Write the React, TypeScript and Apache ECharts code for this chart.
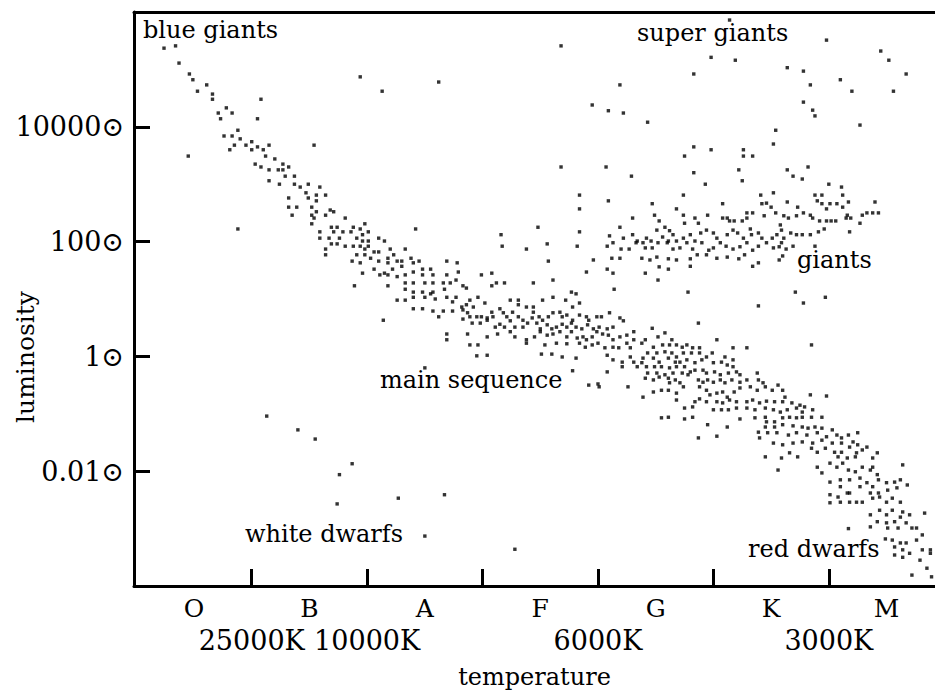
import React, { useEffect, useRef } from "react";
import * as echarts from "echarts";

// Spectral classes along the temperature axis: O sits at 0, M at 6.
const spectralClasses = ["O", "B", "A", "F", "G", "K", "M"];
// Tick marks fall on the boundaries between classes.
const classBoundaries = [0.5, 1.5, 2.5, 3.5, 4.5, 5.5];
// Surface temperatures written under some of those boundaries.
const temperatureTicks = [0.5, 1.5, 3.5, 5.5];
const temperatureLabels = ["25000K", "10000K", "6000K", "3000K"];
// Luminosity ticks, in log10 of solar luminosity.
const luminosityTicks = [4, 2, 0, -2];
const luminosityLabels = ["10000⊙", "100⊙", "1⊙", "0.01⊙"];

// Stars as [spectral position, log10(L / L☉)].
const hotMainSequence = [
  [-0.26, 5.37], [-0.16, 5.41], [-0.13, 5.11], [-0.05, 3.49],
  [-0.04, 4.92], [-0.01, 4.82], [0.11, 4.73], [0.03, 4.62], [0.16, 4.57], [0.16, 4.48], [0.58, 4.48],
  [0.28, 4.33], [0.21, 4.24], [0.33, 4.24], [0.23, 4.14], [0.55, 4.14], [0.38, 3.94], [0.26, 3.84], [0.33, 3.84], [0.4, 3.79],
  [0.35, 3.68], [0.45, 3.68], [0.5, 3.74], [0.65, 3.68], [1.04, 3.68], [0.31, 3.6], [0.5, 3.6], [0.55, 3.65], [0.6, 3.6],
  [0.62, 3.49], [0.7, 3.44], [0.53, 3.35], [0.58, 3.3], [0.77, 3.35], [0.82, 3.3], [0.65, 3.25], [0.73, 3.25], [0.77, 3.25],
  [0.79, 3.14], [0.87, 3.14], [0.65, 3.06], [0.74, 3.0], [0.87, 3.0], [0.92, 2.95], [0.99, 3.0], [1.09, 2.95],
  [0.97, 2.85], [1.06, 2.81], [1.14, 2.81], [0.82, 2.76], [0.99, 2.76], [1.06, 2.71], [0.82, 2.6], [0.89, 2.6], [1.02, 2.6],
  [1.18, 2.55], [1.21, 2.52], [0.85, 2.46], [1.02, 2.46], [1.06, 2.52], [1.14, 2.46], [1.04, 2.41], [1.31, 2.41], [1.02, 2.31],
  [1.19, 2.25], [1.24, 2.25], [1.38, 2.25], [1.48, 2.31], [1.44, 2.22], [0.38, 2.22], [1.92, 2.22],
  [1.09, 2.17], [1.21, 2.17], [1.29, 2.17], [1.36, 2.17], [1.51, 2.17], [1.46, 2.12],
  [1.09, 2.06], [1.17, 2.06], [1.26, 2.06], [1.41, 2.06], [1.6, 2.06], [1.46, 2.01], [1.51, 2.01], [1.65, 2.01],
  [1.19, 1.96], [1.24, 1.96], [1.31, 1.92], [1.38, 1.92], [1.44, 1.92], [1.51, 1.92], [1.14, 1.87], [1.48, 1.87], [1.7, 1.87], [1.83, 1.87],
  [1.56, 1.82], [1.6, 1.82], [1.14, 1.77], [1.41, 1.77], [1.48, 1.77], [1.53, 1.71], [1.68, 1.71], [1.73, 1.77], [1.88, 1.71],
  [1.37, 1.66], [1.44, 1.63], [1.6, 1.66], [1.68, 1.63], [1.76, 1.66], [1.46, 1.45], [1.56, 1.52], [1.61, 1.42], [1.65, 1.45],
  [1.68, 1.42], [1.72, 1.52], [1.76, 1.39], [1.39, 1.23], [1.68, 1.23], [1.76, 0.98], [1.64, 0.63],
];

const midMainSequence = [
  [2.67, 1.92], [3.06, 1.96], [2.88, 1.87],
  [1.8, 1.66], [1.9, 1.63], [1.95, 1.66], [1.8, 1.57], [2.19, 1.66], [2.28, 1.63], [3.07, 1.66],
  [1.9, 1.47], [1.98, 1.52], [2.05, 1.52], [1.98, 1.42], [2.07, 1.42], [2.19, 1.42], [2.29, 1.47], [1.83, 1.42], [2.49, 1.42], [2.58, 1.45],
  [1.83, 1.28], [1.9, 1.28], [2.0, 1.28], [2.07, 1.28], [2.16, 1.28], [2.22, 1.28], [2.27, 1.33], [2.33, 1.23], [2.36, 1.19],
  [2.58, 1.23], [2.62, 1.28], [2.69, 1.28], [2.94, 1.28], [3.11, 1.33], [3.27, 1.12], [3.31, 1.09], [3.64, 1.17], [4.02, 1.33],
  [1.83, 1.17], [1.9, 1.12], [1.98, 1.12], [2.05, 1.09], [2.0, 1.03], [2.07, 1.12], [2.17, 1.17], [1.83, 0.98], [1.9, 1.03],
  [2.09, 1.0], [2.19, 1.03], [2.24, 0.95], [2.27, 1.03], [2.39, 0.98], [2.46, 1.03], [2.52, 0.93], [2.42, 0.86], [2.36, 0.9], [2.33, 0.81],
  [2.74, 0.98], [2.81, 0.98], [2.81, 0.9], [2.88, 0.86], [2.94, 0.86], [3.02, 0.98], [3.11, 1.03], [3.22, 0.98], [3.28, 0.86], [3.34, 0.93],
  [1.9, 0.83], [1.98, 0.83], [2.07, 0.79], [2.12, 0.69], [2.16, 0.79], [2.24, 0.79], [2.32, 0.86], [2.37, 0.76], [2.39, 0.69],
  [2.45, 0.69], [2.49, 0.69], [2.54, 0.67], [2.58, 0.77], [2.59, 0.69], [2.65, 0.83], [2.68, 0.76], [2.71, 0.69], [2.76, 0.77],
  [2.81, 0.69], [2.85, 0.63], [2.93, 0.67], [2.94, 0.77], [2.99, 0.69], [3.02, 0.63], [3.07, 0.69], [3.11, 0.76], [3.17, 0.77],
  [3.19, 0.69], [3.23, 0.72], [3.28, 0.63], [3.34, 0.72], [3.4, 0.69], [3.42, 0.63], [3.49, 0.69], [3.53, 0.69], [3.6, 0.76], [3.69, 0.67],
  [2.33, 0.65], [2.41, 0.58], [2.48, 0.58], [2.54, 0.63], [2.61, 0.51], [2.65, 0.56], [2.69, 0.51], [2.74, 0.62], [2.78, 0.51],
  [2.85, 0.51], [2.89, 0.58], [2.97, 0.58], [3.0, 0.48], [3.06, 0.55], [3.1, 0.48], [3.14, 0.51], [3.19, 0.56], [3.23, 0.51],
  [3.27, 0.58], [3.31, 0.51], [3.36, 0.48], [3.41, 0.55], [3.46, 0.48], [3.51, 0.51], [3.58, 0.48], [3.63, 0.51], [3.72, 0.62], [3.81, 0.43],
  [2.19, 0.39], [2.19, 0.29], [2.37, 0.39], [2.54, 0.34], [2.63, 0.39], [2.74, 0.43], [2.78, 0.34], [2.88, 0.29],
  [2.95, 0.34], [3.0, 0.43], [3.06, 0.37], [3.11, 0.39], [3.17, 0.43], [3.23, 0.34], [3.27, 0.43], [3.32, 0.32], [3.37, 0.34],
  [3.4, 0.29], [3.45, 0.34], [3.49, 0.43], [3.54, 0.39], [3.59, 0.37], [3.63, 0.29], [3.69, 0.34], [3.75, 0.37], [3.81, 0.29],
  [2.39, 0.2], [2.46, 0.2], [2.54, 0.02], [2.45, 0.01], [2.88, 0.23], [3.04, 0.2], [3.14, 0.23], [3.23, 0.22], [3.34, 0.23],
  [3.39, 0.16], [3.45, 0.2], [3.5, 0.23], [3.56, 0.15], [3.63, 0.16], [3.68, 0.15], [3.75, 0.23], [3.78, 0.15],
  [3.01, 0.04], [3.1, 0.04], [3.19, -0.01], [3.31, -0.03], [3.58, 0.02], [3.63, -0.06], [3.71, -0.1], [3.78, -0.01], [3.81, -0.1],
  [2.0, -0.2], [3.28, -0.25], [3.42, -0.5], [3.5, -0.48], [3.51, -0.53], [3.58, -0.27], [3.71, -0.18], [3.84, -0.18], [3.76, -0.53],
];

const coolMainSequence = [
  [4.37, 0.58], [3.97, 0.49], [4.02, 0.34], [4.08, 0.41], [4.14, 0.29], [3.91, 0.29], [3.88, 0.23], [3.98, 0.16],
  [4.06, 0.2], [4.12, 0.2], [4.18, 0.2], [4.23, 0.16], [4.27, 0.2], [4.32, 0.15], [4.38, 0.15], [4.53, 0.29], [4.67, 0.15], [4.79, 0.15], [5.35, 0.2],
  [3.93, 0.06], [4.01, 0.06], [4.08, 0.08], [4.14, 0.06], [4.18, -0.01], [4.24, 0.06], [4.31, 0.06], [4.38, 0.06], [4.44, -0.01], [4.49, 0.06], [4.6, -0.01],
  [3.89, -0.03], [3.88, -0.11], [3.98, -0.03], [4.03, -0.1], [4.11, -0.03], [4.17, -0.1], [4.21, -0.1], [4.27, -0.06], [4.34, -0.11],
  [4.4, -0.06], [4.5, -0.11], [4.57, -0.1], [4.62, -0.15], [4.67, -0.06], [4.67, -0.18],
  [3.92, -0.18], [3.99, -0.18], [4.05, -0.18], [4.12, -0.2], [4.18, -0.18], [4.25, -0.18], [4.3, -0.27], [4.34, -0.24], [4.41, -0.24],
  [4.44, -0.29], [4.51, -0.27], [4.56, -0.32], [4.63, -0.29], [4.7, -0.27], [4.73, -0.32],
  [3.93, -0.29], [4.01, -0.29], [4.08, -0.32], [4.15, -0.29], [4.23, -0.29], [4.28, -0.32],
  [3.91, -0.38], [3.98, -0.41], [4.03, -0.36], [4.11, -0.38], [4.17, -0.41], [4.21, -0.46], [4.12, -0.46],
  [4.37, -0.41], [4.41, -0.45], [4.45, -0.41], [4.5, -0.45], [4.56, -0.41], [4.6, -0.46], [4.66, -0.41], [4.73, -0.45], [4.79, -0.41],
  [4.88, -0.29], [4.89, -0.41], [4.93, -0.46],
  [3.89, -0.71], [3.98, -0.62], [4.05, -0.59], [4.11, -0.59], [4.18, -0.64], [4.24, -0.53], [4.38, -0.53], [4.44, -0.59], [4.47, -0.67],
  [4.53, -0.64], [4.58, -0.62], [4.62, -0.71], [4.68, -0.62], [4.73, -0.55], [4.82, -0.53], [4.88, -0.59], [4.95, -0.53], [5.01, -0.59],
  [5.06, -0.5], [5.1, -0.59], [5.12, -0.71],
  [4.18, -0.76], [4.34, -0.79], [4.38, -0.74], [4.44, -0.79], [4.53, -0.79], [4.58, -0.81], [4.64, -0.76], [4.7, -0.79], [4.79, -0.79],
  [4.84, -0.76], [4.9, -0.81], [4.96, -0.78], [5.03, -0.79], [5.1, -0.79], [5.18, -0.81], [5.25, -0.85], [5.34, -0.67], [5.48, -0.69],
  [4.25, -0.9], [4.32, -0.88], [4.5, -0.93], [4.57, -0.93], [4.63, -0.93], [4.7, -0.9], [4.79, -0.9], [4.86, -0.93], [4.95, -0.9],
  [5.02, -0.93], [5.08, -0.97], [5.14, -0.93], [5.22, -0.9], [5.29, -0.88], [5.27, -0.97], [5.36, -0.93],
  [4.05, -1.07], [4.11, -1.06], [4.25, -1.09], [4.32, -1.06], [4.45, -1.19], [4.62, -1.23], [4.73, -1.09], [4.86, -1.07], [4.95, -1.06],
  [4.96, -1.14], [5.03, -1.14], [5.1, -1.07], [5.16, -1.06], [5.22, -1.07], [5.27, -1.06], [5.35, -1.06], [5.44, -1.06],
  [4.95, -1.23], [5.03, -1.23], [5.1, -1.19], [5.19, -1.21], [5.27, -1.23], [5.32, -1.25], [5.38, -1.23], [5.44, -1.25], [5.53, -1.28],
  [4.89, -1.32], [4.97, -1.33], [5.05, -1.33], [5.15, -1.37], [5.22, -1.33], [5.31, -1.37], [5.4, -1.33], [5.48, -1.4], [5.57, -1.37],
  [5.61, -1.42], [5.67, -1.37], [5.75, -1.33], [4.37, -1.42], [4.53, -1.39],
  [4.9, -1.42], [5.02, -1.51], [5.1, -1.54], [5.19, -1.51], [5.27, -1.49], [5.36, -1.51], [5.44, -1.46], [5.53, -1.51], [5.61, -1.51],
  [5.71, -1.49], [5.75, -1.54],
  [4.95, -1.75], [5.09, -1.77], [5.16, -1.68], [5.23, -1.75], [5.35, -1.6], [5.4, -1.67], [5.47, -1.6], [5.55, -1.67], [5.61, -1.67],
  [5.68, -1.58], [5.74, -1.68], [5.79, -1.63], [5.83, -1.58], [5.92, -1.68], [5.88, -1.77], [5.73, -1.75], [5.66, -1.77], [5.58, -1.75],
  [5.06, -1.98], [5.4, -1.93], [5.44, -2.03], [5.51, -1.86], [5.57, -1.93], [5.62, -1.86], [5.67, -1.98], [5.73, -2.01], [5.79, -1.93],
  [5.86, -1.98], [5.88, -1.93], [5.92, -2.06], [6.14, -1.89],
  [5.51, -2.19], [5.6, -2.15], [5.68, -2.15], [5.77, -2.12], [5.83, -2.2], [5.88, -2.27], [5.93, -2.15], [6.0, -2.2], [6.07, -2.19],
  [6.12, -2.15], [6.18, -2.24], [5.6, -2.27], [5.68, -2.38], [5.77, -2.27], [5.86, -2.38], [5.93, -2.38], [6.01, -2.33], [6.09, -2.29],
  [5.51, -2.41], [5.58, -2.45], [5.66, -2.38], [5.74, -2.54], [5.79, -2.54], [5.88, -2.47], [5.94, -2.45], [6.0, -2.54], [6.05, -2.47],
  [6.12, -2.54], [5.51, -2.55], [5.6, -2.54], [5.68, -2.54],
  [5.86, -2.76], [5.94, -2.68], [6.0, -2.76], [6.05, -2.68], [6.14, -2.71], [6.2, -2.76], [6.33, -2.73],
  [5.86, -2.97], [5.92, -2.88], [6.0, -2.9], [6.07, -2.88], [6.12, -2.8], [6.01, -2.99], [6.1, -2.99], [6.17, -2.9], [6.22, -2.99],
  [6.26, -2.99], [5.67, -3.0],
  [5.99, -3.18], [6.05, -3.2], [6.12, -3.25], [6.17, -3.25], [6.26, -3.2], [6.31, -3.11], [6.07, -3.32], [6.14, -3.37], [6.2, -3.43],
  [6.31, -3.37], [6.38, -3.37], [6.07, -3.46], [6.14, -3.5], [6.29, -3.55], [6.38, -3.43],
  [6.22, -3.81], [6.35, -3.69], [6.39, -3.84],
];

const giants = [
  [3.57, 3.3], [3.79, 3.14], [4.33, 3.2], [4.43, 3.0], [4.72, 3.25], [4.75, 3.06], [5.14, 3.25], [5.19, 3.14], [5.32, 3.3],
  [5.27, 3.09], [5.5, 3.0], [5.61, 2.95],
  [3.34, 2.81], [3.59, 2.71], [3.97, 2.66], [4.24, 2.81], [4.58, 2.66], [4.91, 2.81], [5.02, 2.85], [4.96, 2.67], [5.0, 2.6],
  [4.92, 2.66], [5.14, 2.69], [5.23, 2.6], [5.38, 2.81], [5.44, 2.81], [5.62, 2.81], [5.67, 2.69], [5.62, 2.6], [5.51, 2.66],
  [5.44, 2.66], [5.4, 2.71], [5.48, 2.57], [5.57, 2.66], [5.9, 2.69],
  [3.34, 2.57], [4.18, 2.57], [3.99, 2.46], [4.03, 2.36], [4.24, 2.46], [4.25, 2.32], [3.8, 2.41], [3.69, 2.25], [4.08, 2.25],
  [4.12, 2.19], [4.34, 2.41], [4.37, 2.32], [4.45, 2.46],
  [4.58, 2.41], [4.62, 2.41], [4.64, 2.36], [4.68, 2.36], [4.75, 2.36], [4.79, 2.41], [4.79, 2.5], [4.84, 2.5], [4.94, 2.45],
  [5.04, 2.5], [5.11, 2.45], [5.15, 2.41], [5.22, 2.45], [5.28, 2.5], [5.34, 2.46], [5.36, 2.41], [5.42, 2.36], [5.48, 2.36],
  [5.52, 2.36], [5.56, 2.36], [5.66, 2.46], [5.65, 2.41], [5.79, 2.46], [5.83, 2.5], [5.88, 2.5], [5.93, 2.5], [5.77, 2.32], [5.69, 2.41],
  [3.34, 2.17], [3.6, 2.1], [3.72, 2.06], [3.8, 2.12], [3.84, 2.01], [3.92, 2.06], [3.96, 2.01], [4.01, 2.2], [4.06, 2.08],
  [4.11, 2.01], [4.15, 2.12], [4.18, 2.01], [4.24, 2.06], [4.3, 2.12], [4.34, 2.01], [4.39, 2.15], [4.44, 2.2], [4.5, 2.15],
  [4.53, 2.06], [4.56, 1.98], [4.62, 2.12], [4.67, 2.2], [4.71, 2.15], [4.76, 2.06], [4.82, 2.22], [4.83, 2.12], [4.89, 2.15],
  [4.92, 2.06], [5.01, 2.06], [5.05, 2.12], [5.09, 2.2], [5.08, 2.29], [5.11, 2.06], [5.17, 2.15], [5.22, 2.12], [5.27, 2.12],
  [5.34, 2.12], [5.41, 2.17], [5.46, 2.22], [5.68, 2.17],
  [3.32, 1.92], [3.58, 1.92], [3.63, 1.98], [3.7, 1.87], [3.77, 1.87], [3.83, 1.98], [3.89, 1.98], [3.91, 1.89], [3.97, 1.89],
  [4.02, 1.98], [4.1, 1.98], [4.15, 1.87], [4.21, 1.89], [4.27, 1.98], [4.32, 1.87], [4.4, 1.98], [4.46, 1.85], [4.5, 1.89],
  [4.61, 1.92], [4.67, 1.87], [4.73, 1.91], [4.79, 1.98], [4.84, 1.85], [4.89, 1.92], [4.96, 1.98], [5.02, 1.89], [5.07, 1.91],
  [5.09, 1.98], [5.13, 1.87], [5.1, 1.75], [5.19, 1.92], [5.38, 1.92],
  [3.46, 1.68], [3.62, 1.71], [3.69, 1.71], [3.88, 1.71], [3.95, 1.68], [4.01, 1.73], [4.11, 1.7], [4.18, 1.68], [4.3, 1.7],
  [4.36, 1.77], [4.44, 1.77], [4.53, 1.71], [4.62, 1.73], [4.72, 1.7], [4.77, 1.77], [4.84, 1.57], [4.89, 1.63], [5.07, 1.68],
  [3.4, 1.47], [3.58, 1.52], [3.63, 1.45], [3.91, 1.45], [4.03, 1.56], [4.11, 1.52], [4.3, 1.57],
  [4.28, 1.12], [5.21, 1.12], [5.47, 1.03], [5.28, 0.93], [4.89, 0.88],
];

const superGiants = [
  [1.44, 4.87], [1.63, 4.62], [2.12, 4.78],
  [3.18, 5.41], [3.45, 4.38], [3.59, 4.28], [3.69, 4.73], [3.18, 3.3], [2.98, 2.25], [2.66, 2.12],
  [4.64, 5.86], [5.48, 5.51], [5.95, 5.32], [6.02, 5.16], [6.17, 4.92], [4.48, 5.21], [4.69, 5.16], [5.14, 5.03], [5.28, 4.97], [4.33, 4.92],
  [5.34, 4.73], [5.6, 4.82], [5.7, 4.62], [6.06, 4.62], [5.28, 4.43], [5.36, 4.29], [5.38, 4.19], [3.72, 4.24], [3.93, 4.08], [5.77, 4.03],
  [5.04, 3.94], [5.02, 3.7], [4.33, 3.65], [4.48, 3.6], [4.76, 3.6], [4.76, 3.49], [4.84, 3.49], [4.25, 3.49],
];

const whiteDwarfs = [
  [0.63, -1.04], [0.9, -1.28], [1.05, -1.44], [1.37, -1.87], [1.26, -2.06], [1.24, -2.57],
  [1.77, -2.47], [2.17, -2.41], [2.0, -3.13], [2.78, -3.36],
];

// Names written across the diagram.
const regionNames = ["blue giants", "super giants", "giants", "main sequence", "white dwarfs", "red dwarfs"];

const starGroups = [
  { name: "hot main sequence", data: hotMainSequence },
  { name: "main sequence", data: midMainSequence },
  { name: "cool main sequence", data: coolMainSequence },
  { name: "giants", data: giants },
  { name: "super giants", data: superGiants },
  { name: "white dwarfs", data: whiteDwarfs },
];

const FONT = "'DejaVu Serif', 'DejaVu Sans', serif";
const INK = "#000";

function pick(values: number[], labels: string[], v: number): string {
  const i = values.findIndex((t) => Math.abs(t - v) < 1e-6);
  return i >= 0 ? labels[i] : "";
}

export default function App() {
  const ref = useRef<HTMLDivElement>(null);

  useEffect(() => {
    if (!ref.current) return;
    const chart = echarts.init(ref.current, null, { renderer: "svg" });

    const xRange = { min: -0.52, max: 6.42 };
    const heavyLine = { show: true, onZero: false, lineStyle: { color: INK, width: 3 } };
    const notePlaces: [number, number][] = [
      [143, 29.5],
      [637, 32.5],
      [797, 259.5],
      [380, 379.5],
      [245, 533.5],
      [748, 548.5],
    ];

    chart.setOption({
      animation: false,
      backgroundColor: "#fff",
      textStyle: { fontFamily: FONT, color: INK },
      grid: {
        left: 134,
        right: 0,
        top: 12,
        bottom: 106,
        containLabel: false,
        outerBoundsMode: "none",
      },
      xAxis: [
        {
          type: "value",
          ...xRange,
          position: "bottom",
          axisLine: heavyLine,
          axisTick: {
            show: true,
            inside: true,
            length: 17,
            customValues: classBoundaries,
            lineStyle: { color: INK, width: 3 },
          },
          axisLabel: {
            customValues: spectralClasses.map((_, i) => i),
            formatter: (v: number) => spectralClasses[Math.round(v)] ?? "",
            fontFamily: FONT,
            fontSize: 25,
            color: INK,
            margin: 10,
          },
          splitLine: { show: false },
          name: "temperature",
          nameLocation: "middle",
          nameGap: 79,
          nameMoveOverlap: false,
          nameTextStyle: { fontFamily: FONT, fontSize: 24, color: INK },
        },
        {
          type: "value",
          ...xRange,
          position: "bottom",
          axisLine: { show: false, onZero: false },
          axisTick: { show: false },
          splitLine: { show: false },
          axisLabel: {
            customValues: temperatureTicks,
            formatter: (v: number) => pick(temperatureTicks, temperatureLabels, v),
            fontFamily: FONT,
            fontSize: 27,
            color: INK,
            margin: 41,
          },
        },
        {
          type: "value",
          ...xRange,
          position: "top",
          axisLine: heavyLine,
          axisTick: { show: false },
          axisLabel: { show: false },
          splitLine: { show: false },
        },
      ],
      yAxis: {
        type: "value",
        min: -4,
        max: 6,
        axisLine: heavyLine,
        axisTick: {
          show: true,
          inside: true,
          length: 16,
          customValues: luminosityTicks,
          lineStyle: { color: INK, width: 3 },
        },
        axisLabel: {
          customValues: luminosityTicks,
          formatter: (v: number) => pick(luminosityTicks, luminosityLabels, v),
          fontFamily: FONT,
          fontSize: 27,
          color: INK,
          margin: 10,
        },
        splitLine: { show: false },
        name: "luminosity",
        nameLocation: "middle",
        nameGap: 96,
        nameMoveOverlap: false,
        nameTextStyle: { fontFamily: FONT, fontSize: 25, color: INK, padding: [0, 116, 0, 0] },
      },
      series: starGroups.map((g) => ({
        type: "scatter",
        name: g.name,
        data: g.data,
        xAxisIndex: 0,
        yAxisIndex: 0,
        symbol: "rect",
        symbolSize: 3.4,
        itemStyle: { color: INK },
        silent: true,
        clip: false,
      })),
      graphic: regionNames.map((text, i) => ({
        type: "text",
        x: notePlaces[i][0],
        y: notePlaces[i][1],
        silent: true,
        style: {
          text,
          fontFamily: FONT,
          fontSize: 24,
          fill: INK,
          align: "left",
          verticalAlign: "middle",
        },
      })),
    });

    return () => chart.dispose();
  }, []);

  return (
    <div
      ref={ref}
      style={{ position: "fixed", left: 0, top: 0, width: 935, height: 692, background: "#fff" }}
    />
  );
}
